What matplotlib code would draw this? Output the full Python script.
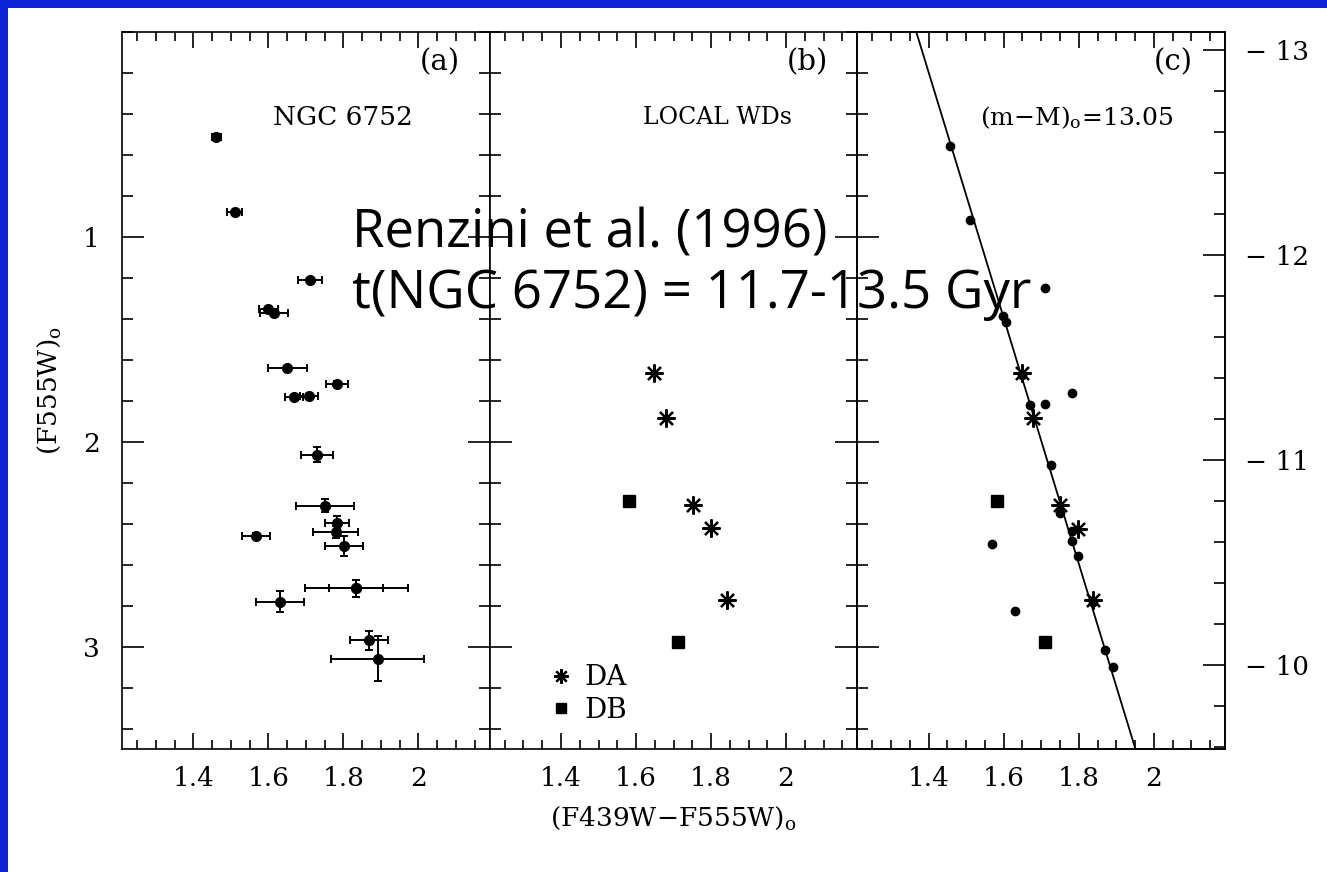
import numpy as np
import matplotlib
matplotlib.use("Agg")
import matplotlib.pyplot as plt
from matplotlib.patches import Rectangle
from matplotlib.ticker import MultipleLocator, FixedLocator

plt.rcParams['font.family'] = ['DejaVu Serif']
plt.rcParams['mathtext.fontset'] = 'dejavuserif'

# Panel (a): NGC 6752 white dwarfs with error bars
ngc_color = [1.461, 1.511, 1.711, 1.600, 1.615, 1.650, 1.783, 1.669, 1.709, 1.730,
             1.751, 1.783, 1.780, 1.567, 1.802, 1.834, 1.834, 1.631, 1.869, 1.891]
ngc_mag = [0.512, 0.878, 1.210, 1.350, 1.370, 1.640, 1.720, 1.780, 1.775, 2.063,
           2.312, 2.395, 2.440, 2.458, 2.510, 2.716, 2.716, 2.780, 2.970, 3.060]
ngc_xerr = [0.012, 0.020, 0.032, 0.025, 0.038, 0.052, 0.030, 0.024, 0.024, 0.042,
            0.077, 0.032, 0.060, 0.037, 0.051, 0.072, 0.137, 0.065, 0.051, 0.123]
ngc_yerr = [0.010, 0.010, 0.010, 0.010, 0.010, 0.010, 0.015, 0.010, 0.010, 0.035,
            0.030, 0.030, 0.030, 0.010, 0.050, 0.040, 0.040, 0.050, 0.045, 0.110]

# Panel (b): local white dwarfs
da_color = [1.647, 1.681, 1.751, 1.801, 1.842]
da_mag = [1.664, 1.884, 2.307, 2.420, 2.771]
db_color = [1.581, 1.712]
db_mag = [2.288, 2.980]

# Panel (c): NGC 6752 shifted by distance modulus, over local WDs
c_dot_color = [1.458, 1.511, 1.709, 1.597, 1.607, 1.650, 1.781, 1.709, 1.669, 1.727,
               1.749, 1.781, 1.781, 1.799, 1.570, 1.839, 1.629, 1.871, 1.890]
c_dot_mag = [0.555, 0.917, 1.250, 1.385, 1.415, 1.675, 1.763, 1.815, 1.820, 2.112,
             2.350, 2.434, 2.483, 2.556, 2.497, 2.780, 2.824, 3.015, 3.100]
c_da_color = [1.650, 1.677, 1.749, 1.799, 1.839]
c_da_mag = [1.664, 1.885, 2.307, 2.424, 2.771]
c_db_color = [1.581, 1.709]
c_db_mag = [2.288, 2.980]
fit_color = [1.367, 1.951]
fit_mag = [0.0, 3.5]

x_ticks = [1.4, 1.6, 1.8, 2.0]
x_labels = ['1.4', '1.6', '1.8', '2']
y_ticks = [1, 2, 3]
abs_ticks = [-13, -12, -11, -10]
dist_mod = 13.09

fig = plt.figure(figsize=(13.27, 8.72), dpi=100)
fig.patch.set_facecolor('#0b24d6')
fig.add_artist(Rectangle((8 / 1327, 0), 1, 1 - 8 / 872, transform=fig.transFigure,
                         facecolor='white', edgecolor='none', zorder=-10))

left, bottom, w, h = 122 / 1327, 1 - 749 / 872, 367.7 / 1327, 717 / 872
axes = [fig.add_axes([left + i * w, bottom, w, h]) for i in range(3)]

for i, ax in enumerate(axes):
    ax.set_xlim(1.21, 2.19)
    ax.set_ylim(3.5, 0.0)
    ax.xaxis.set_major_locator(FixedLocator(x_ticks))
    ax.set_xticklabels(x_labels)
    ax.xaxis.set_minor_locator(MultipleLocator(0.05))
    ax.yaxis.set_major_locator(FixedLocator(y_ticks))
    ax.yaxis.set_minor_locator(MultipleLocator(0.2))
    ax.tick_params(which='both', direction='in', top=True, right=(i < 2), width=1.2,
                   labelsize=19, colors='black')
    ax.tick_params(axis='x', which='major', length=11.5, pad=12)
    ax.tick_params(axis='x', which='minor', length=6.5)
    ax.tick_params(axis='y', which='major', length=15.5, pad=16)
    ax.tick_params(axis='y', which='minor', length=8)
    if i > 0:
        ax.tick_params(axis='y', labelleft=False)
    for s in ax.spines.values():
        s.set_linewidth(1.2)

ax_a, ax_b, ax_c = axes

ax_a.errorbar(ngc_color, ngc_mag, xerr=ngc_xerr, yerr=ngc_yerr, fmt='o', color='black',
              ms=7, elinewidth=1.4, capsize=3, capthick=1.4)
ax_a.text(0.602, 0.881, 'NGC 6752', transform=ax_a.transAxes, ha='center', va='center', fontsize=19)
ax_a.text(0.864, 0.958, '(a)', transform=ax_a.transAxes, ha='center', va='center', fontsize=21)
ax_a.set_ylabel(r'(F555W)$_{\rm o}$', fontsize=19, labelpad=14)

asterisk = (8, 2, 0)
ax_b.plot(da_color, da_mag, linestyle='none', marker=asterisk, ms=13, mew=1.6, color='black', label='DA')
ax_b.plot(db_color, db_mag, linestyle='none', marker='s', ms=9, color='black', label='DB')
ax_b.text(0.62, 0.881, 'LOCAL WDs', transform=ax_b.transAxes, ha='center', va='center', fontsize=17)
ax_b.text(0.865, 0.958, '(b)', transform=ax_b.transAxes, ha='center', va='center', fontsize=21)
ax_b.legend(loc='lower left', bbox_to_anchor=(0.095, 0.0), frameon=False, fontsize=20,
            handlelength=0.8, handletextpad=0.45, labelspacing=0.2, markerscale=0.8)
ax_b.set_xlabel(r'(F439W$-$F555W)$_{\rm o}$', fontsize=19, labelpad=10)

ax_c.plot(fit_color, fit_mag, color='black', lw=1.3)
ax_c.plot(c_dot_color, c_dot_mag, linestyle='none', marker='o', ms=6, color='black')
ax_c.plot(c_da_color, c_da_mag, linestyle='none', marker=asterisk, ms=13, mew=1.6, color='black')
ax_c.plot(c_db_color, c_db_mag, linestyle='none', marker='s', ms=9, color='black')
ax_c.text(0.597, 0.881, r'(m$-$M)$_{\rm o}$=13.05', transform=ax_c.transAxes, ha='center',
          va='center', fontsize=18)
ax_c.text(0.858, 0.958, '(c)', transform=ax_c.transAxes, ha='center', va='center', fontsize=21)

# absolute magnitude scale on the right
ax_r = ax_c.twinx()
ax_r.set_ylim(3.5 - dist_mod, 0.0 - dist_mod)
ax_r.yaxis.set_major_locator(FixedLocator(abs_ticks))
ax_r.yaxis.set_minor_locator(MultipleLocator(0.2))
ax_r.set_yticklabels(['\u2212 %d' % abs(t) for t in abs_ticks])
ax_r.tick_params(which='both', direction='in', width=1.2, labelsize=19)
ax_r.tick_params(which='major', length=15.5, pad=14)
ax_r.tick_params(which='minor', length=8)
for s in ax_r.spines.values():
    s.set_linewidth(1.2)

fig.text(352 / 1327, 1 - 207 / 872, 'Renzini et al. (1996)\nt(NGC 6752) = 11.7-13.5 Gyr',
         family=['Open Sans', 'DejaVu Sans'], fontsize=38, ha='left', va='top',
         linespacing=1.17, color='black')

fig.savefig('out.png', dpi=100, facecolor=fig.get_facecolor())
